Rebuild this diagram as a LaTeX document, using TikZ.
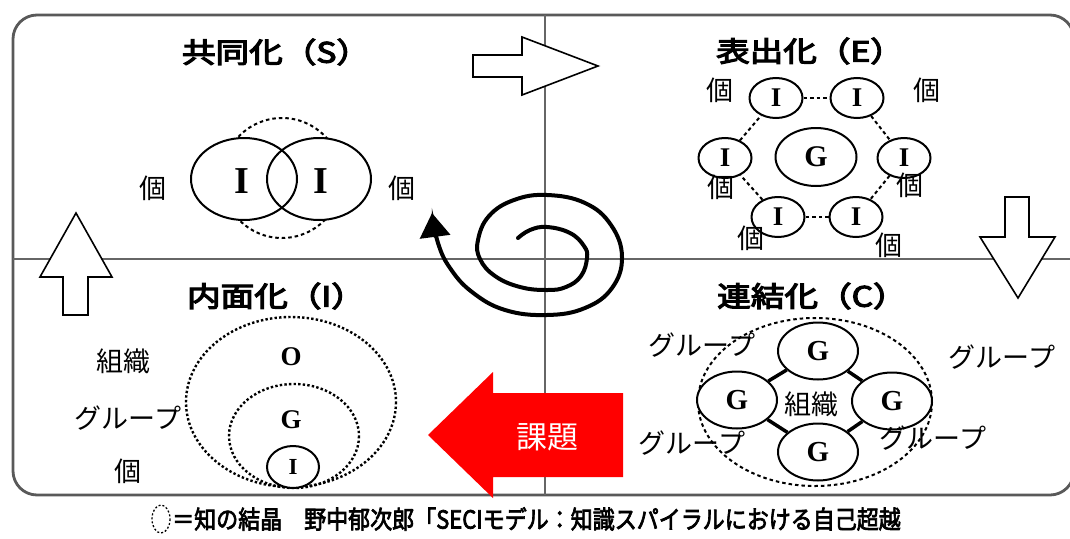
\documentclass[tikz,border=0pt]{standalone}
\usepackage{fontspec}
\usetikzlibrary{shapes.geometric,arrows.meta}
\newfontfamily\jp{Noto Sans CJK JP}
\newfontfamily\jpb{Noto Sans CJK JP}[FakeBold=4]
\newfontfamily\jpc{Noto Sans CJK JP}[FakeBold=3]
\newfontfamily\tms{Liberation Serif}
\begin{document}
\begin{tikzpicture}[x=1pt,y=-1pt,
  ttl/.style={font=\jpb\fontsize{28}{30}\selectfont, inner sep=0},
  lbl/.style={font=\jp\fontsize{27}{29}\selectfont, inner sep=0},
  ring/.style={ellipse, draw, line width=2pt, inner sep=0},
  ind/.style={ring, fill=white, minimum width=53pt, minimum height=40pt, font=\tms\bfseries\fontsize{27}{27}\selectfont},
  grp/.style={ring, fill=white, minimum width=80pt, minimum height=57pt, font=\tms\bfseries\fontsize{29}{29}\selectfont},
  dsh/.style={dash pattern=on 3.5pt off 3pt, line width=2pt},
  dot/.style={dash pattern=on 2.4pt off 2.2pt, line width=2.4pt},
  hollow/.style={draw, line width=1.6pt, fill=white, line join=miter},
]
\useasboundingbox (0,0) rectangle (1070,538);
\clip (0,0) rectangle (1070,538);
\fill[white] (0,0) rectangle (1070,538);
% frame and dividers
\draw[line width=2.8pt, draw=black!65, rounded corners=24pt] (13,15) rectangle (1074,495);
\draw[line width=2pt, draw=black!60] (545,15) -- (545,495);
\draw[line width=2pt, draw=black!60] (13,259) -- (1074,259);
% hollow arrows
\path[hollow] (473,55) -- (522,55) -- (522,37) -- (598,66) -- (522,95) -- (522,77) -- (473,77) -- cycle;
\path[hollow] (63,315) -- (63,277) -- (40,277) -- (76,213) -- (112,277) -- (88,277) -- (88,315) -- cycle;
\path[hollow] (1005,197) -- (1029,197) -- (1029,237) -- (1055,237) -- (1018,298) -- (980,237) -- (1005,237) -- cycle;
% titles
\node[ttl] (tS) at (276,52) {\scalebox{1.2}[1]{共同化（S）}};
\node[ttl] (tE) at (810,51) {\scalebox{1.2}[1]{表出化（E）}};
\node[ttl] (tI) at (276,296) {\scalebox{1.2}[1]{内面化（I）}};
\node[ttl] (tC) at (812,296) {\scalebox{1.2}[1]{連結化（C）}};
% S quadrant
\draw[dsh] (282,178) circle [radius=60];
\fill[white] (244,179) ellipse [x radius=53, y radius=41] (319,179) ellipse [x radius=52, y radius=41];
\node[ring, minimum width=106pt, minimum height=82pt] (s1) at (244,179) {};
\node[ring, minimum width=104pt, minimum height=82pt] (s2) at (319,179) {};
\node[font=\tms\bfseries\fontsize{38}{38}\selectfont, inner sep=0] (s1t) at (242,181) {I};
\node[font=\tms\bfseries\fontsize{38}{38}\selectfont, inner sep=0] (s2t) at (321,181) {I};
\node[lbl] (sl1) at (153,188) {個};
\node[lbl] (sl2) at (402,188) {個};
% E quadrant
\node[ind] (e1) at (776,98) {I};
\node[ind] (e2) at (857,98) {I};
\node[ind] (e3) at (904,158) {I};
\node[ind] (e4) at (856,217) {I};
\node[ind] (e5) at (778,217) {I};
\node[ind] (e6) at (725,158) {I};
\node[ring, fill=white, minimum width=81pt, minimum height=58pt, font=\tms\bfseries\fontsize{30}{30}\selectfont] (eg) at (816,157) {G};
\draw[dsh] (e1) -- (e2);
\draw[dsh] (e2) -- (e3);
\draw[dsh] (e3) -- (e4);
\draw[dsh] (e4) -- (e5);
\draw[dsh] (e5) -- (e6);
\draw[dsh] (e6) -- (e1);
\node[lbl] (el1) at (720,90) {個};
\node[lbl] (el2) at (927,90) {個};
\node[lbl] (el3) at (721,187) {個};
\node[lbl] (el4) at (910,185) {個};
\node[lbl] (el5) at (751,238) {個};
\node[lbl] (el6) at (889,245) {個};
% spiral
\draw[line width=4pt, line cap=round, -{Triangle[length=24pt,width=30pt]}]
  plot[smooth, tension=0.7] coordinates {(518,238) (530,230) (547,227) (570,233) (584,246) (587,258) (581,276) (566,287) (547,290) (520,287) (495,276) (480,259) (478,240) (489,216) (514,200) (547,195) (585,203) (611,225) (622,257) (612,288) (585,308) (547,315) (505,310) (472,292) (450,268) (438,243) (432,213)};
% I quadrant
\draw[dot] (291,402) ellipse [x radius=105, y radius=85];
\draw[dot] (294,436) ellipse [x radius=65, y radius=52];
\node[ring, fill=white, minimum width=52pt, minimum height=42pt, font=\tms\bfseries\fontsize{23}{23}\selectfont] (ii) at (293,467) {I};
\node[font=\tms\bfseries\fontsize{27}{27}\selectfont, inner sep=0] (io) at (291,357) {O};
\node[font=\tms\bfseries\fontsize{27}{27}\selectfont, inner sep=0] (ig) at (291,420) {G};
\node[lbl] (il1) at (123,361) {組織};
\node[lbl] (il2) at (128,418) {グループ};
\node[lbl] (il3) at (128,471) {個};
% C quadrant
\draw[dsh] (815,402) ellipse [x radius=117, y radius=84];
\node[grp] (ct) at (818,351) {G};
\node[grp] (cl) at (737,400) {G};
\node[grp] (cr) at (892,401) {G};
\node[grp] (cb) at (818,452) {G};
\draw[line width=3.5pt] (ct) -- (cl);
\draw[line width=3.5pt] (ct) -- (cr);
\draw[line width=3.5pt] (cb) -- (cl);
\draw[line width=3.5pt] (cb) -- (cr);
\node[lbl] (cc) at (811,404) {組織};
\node[lbl] (cl1) at (702,345) {グループ};
\node[lbl] (cl2) at (1002,357) {グループ};
\node[lbl] (cl3) at (692,443) {グループ};
\node[lbl] (cl4) at (933,438) {グループ};
% red arrow
\fill[red] (623,393) -- (493,393) -- (493,372) -- (428,435) -- (493,498) -- (493,477) -- (623,477) -- cycle;
\node[font=\jp\fontsize{31}{31}\selectfont, text=white, inner sep=0] (kadai) at (547,437) {課題};
% caption
\draw[dash pattern=on 2pt off 2pt, line width=1.3pt] (161,519) ellipse [x radius=9, y radius=14];
\node[font=\jpc\fontsize{25}{27}\selectfont, anchor=west, inner sep=0] (cap) at (172,519) {\scalebox{0.88}[1]{＝知の結晶　野中郁次郎「SECIモデル：知識スパイラルにおける自己超越}};
\end{tikzpicture}
\end{document}
